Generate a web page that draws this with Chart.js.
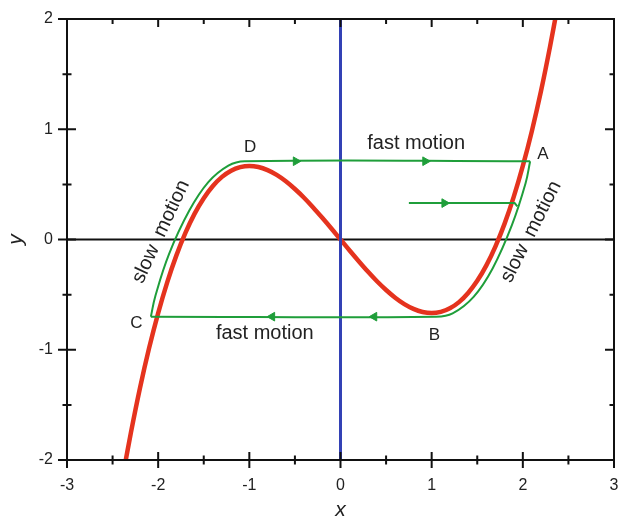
<!DOCTYPE html>
<html>
<head>
<meta charset="utf-8">
<script src="https://cdn.jsdelivr.net/npm/chart.js@4.4.1/dist/chart.umd.min.js"></script>
<style>
  html, body { margin: 0; padding: 0; background: #fff; }
</style>
</head>
<body>
<canvas id="phaseChart" width="620" height="519"></canvas>
<script>
// cubic nullcline (red)
const nullclineX = [-2.36, -2.3, -2.2, -2.1, -2.0, -1.9, -1.8, -1.7, -1.6, -1.5, -1.4, -1.3, -1.2, -1.1,
  -1.0, -0.9, -0.8, -0.7, -0.6, -0.5, -0.4, -0.3, -0.2, -0.1, 0,
  0.1, 0.2, 0.3, 0.4, 0.5, 0.6, 0.7, 0.8, 0.9, 1.0, 1.1, 1.2, 1.3, 1.4, 1.5,
  1.6, 1.7, 1.8, 1.9, 2.0, 2.1, 2.2, 2.3, 2.36];
const nullclineY = [-2.021, -1.756, -1.349, -0.987, -0.667, -0.386, -0.144, 0.062, 0.235, 0.375, 0.485,
  0.568, 0.624, 0.656, 0.667, 0.657, 0.629, 0.586, 0.528, 0.458, 0.379, 0.291, 0.197, 0.100, 0,
  -0.100, -0.197, -0.291, -0.379, -0.458, -0.528, -0.586, -0.629, -0.657, -0.667, -0.656, -0.624,
  -0.568, -0.485, -0.375, -0.235, -0.062, 0.144, 0.386, 0.667, 0.987, 1.349, 1.756, 2.021];

// relaxation cycle (green): C -> left branch -> D -> A
const cycleUpperX = [-2.08, -2.03, -1.88, -1.66, -1.45, -1.23, -1.05, 2.08];
const cycleUpperY = [-0.70, -0.51, -0.13, 0.26, 0.52, 0.67, 0.71, 0.71];
// C -> B -> right branch -> A
const cycleLowerX = [-2.08, 1.05, 1.23, 1.46, 1.67, 1.88, 2.03, 2.08];
const cycleLowerY = [-0.70, -0.70, -0.67, -0.52, -0.26, 0.13, 0.51, 0.71];

// initial approach onto the right branch
const startX = [0.75, 1.91, 1.94];
const startY = [0.33, 0.33, 0.30];

// arrow heads
const arrowRightX = [-0.49, 0.93, 1.14];
const arrowRightY = [0.71, 0.71, 0.33];
const arrowLeftX = [-0.75, 0.37];
const arrowLeftY = [-0.70, -0.70];

// axis ticks
const xTicks = [-3, -2, -1, 0, 1, 2, 3];
const yTicks = [-2, -1, 0, 1, 2];

const labels = [
  { text: 'fast motion', x: 0.83, y: 0.87, rot: 0 },
  { text: 'fast motion', x: -0.83, y: -0.85, rot: 0 },
  { text: 'A', x: 2.22, y: 0.77, rot: 0 },
  { text: 'B', x: 1.03, y: -0.87, rot: 0 },
  { text: 'C', x: -2.24, y: -0.76, rot: 0 },
  { text: 'D', x: -0.99, y: 0.84, rot: 0 },
  { text: 'slow  motion', x: -1.97, y: 0.07, rot: -65 },
  { text: 'slow  motion', x: 2.09, y: 0.07, rot: -63 }
];

const GREEN = '#1f9e3a';
const RED = '#e5331e';
const BLUE = '#3341b5';
const FONT = '"Liberation Sans", Arial, sans-serif';

function toPoints(xs, ys) {
  return xs.map((x, i) => ({ x: x, y: ys[i] }));
}

function lineSet(xs, ys, color, width, extra) {
  return Object.assign({
    data: toPoints(xs, ys),
    showLine: true,
    borderColor: color,
    borderWidth: width,
    pointRadius: 0,
    fill: false
  }, extra || {});
}

function arrowSet(xs, ys, rotation) {
  return {
    data: toPoints(xs, ys),
    showLine: false,
    pointStyle: 'triangle',
    pointRadius: 5,
    rotation: rotation,
    pointBackgroundColor: GREEN,
    pointBorderColor: GREEN,
    pointBorderWidth: 1
  };
}

// frame with tick marks, plus the text annotations
const frameAndText = {
  id: 'frameAndText',
  afterDatasetsDraw(chart) {
    const { ctx, chartArea: a, scales: { x, y } } = chart;
    ctx.save();
    ctx.strokeStyle = '#111';
    ctx.lineWidth = 2;
    ctx.strokeRect(a.left, a.top, a.right - a.left, a.bottom - a.top);

    ctx.beginPath();
    for (let v = -3; v <= 3.001; v += 0.5) {
      const px = x.getPixelForValue(v);
      const major = Number.isInteger(v);
      const out = major ? 8 : 4.5;
      ctx.moveTo(px, a.bottom - out);
      ctx.lineTo(px, a.bottom + out);
      ctx.moveTo(px, a.top);
      ctx.lineTo(px, a.top + (major ? 8 : 5));
    }
    for (let v = -2; v <= 2.001; v += 0.5) {
      const py = y.getPixelForValue(v);
      const major = Number.isInteger(v);
      const out = major ? 9 : 4.5;
      ctx.moveTo(a.left - out, py);
      ctx.lineTo(a.left + out, py);
      ctx.moveTo(a.right, py);
      ctx.lineTo(a.right - (major ? 9 : 4.5), py);
    }
    ctx.stroke();

    ctx.fillStyle = '#222';
    ctx.textAlign = 'center';
    ctx.textBaseline = 'middle';
    labels.forEach(l => {
      const big = l.text.length > 1;
      ctx.font = (big ? 20 : 17) + 'px ' + FONT;
      ctx.save();
      ctx.translate(x.getPixelForValue(l.x), y.getPixelForValue(l.y));
      ctx.rotate(l.rot * Math.PI / 180);
      ctx.fillText(l.text, 0, 0);
      ctx.restore();
    });
    ctx.restore();
  }
};

new Chart(document.getElementById('phaseChart'), {
  type: 'scatter',
  data: {
    datasets: [
      arrowSet(arrowRightX, arrowRightY, 90),
      arrowSet(arrowLeftX, arrowLeftY, -90),
      lineSet(cycleUpperX, cycleUpperY, GREEN, 2, { tension: 0.4 }),
      lineSet(cycleLowerX, cycleLowerY, GREEN, 2, { tension: 0.4 }),
      lineSet(startX, startY, GREEN, 2),
      lineSet([0, 0], [-2, 2], BLUE, 3),
      lineSet(nullclineX, nullclineY, RED, 4.5, { cubicInterpolationMode: 'monotone' }),
      lineSet([-3, 3], [0, 0], '#111', 2)
    ]
  },
  options: {
    responsive: false,
    animation: false,
    events: [],
    layout: { padding: { top: 19, right: 6, left: 0, bottom: 0 } },
    plugins: {
      legend: { display: false },
      tooltip: { enabled: false }
    },
    scales: {
      x: {
        type: 'linear',
        min: -3,
        max: 3,
        afterFit: s => { s.height = 59; s.paddingLeft = 0; s.paddingRight = 0; },
        afterBuildTicks: s => { s.ticks = xTicks.map(v => ({ value: v })); },
        grid: { display: false, drawTicks: false },
        border: { display: false },
        ticks: { color: '#222', padding: 16, font: { family: FONT, size: 16 } },
        title: {
          display: true,
          text: 'x',
          color: '#222',
          padding: 0,
          font: { family: FONT, size: 21, style: 'italic', lineHeight: 0.8 }
        }
      },
      y: {
        type: 'linear',
        min: -2,
        max: 2,
        afterFit: s => { s.width = 67; s.paddingTop = 0; s.paddingBottom = 0; },
        afterBuildTicks: s => { s.ticks = yTicks.map(v => ({ value: v })); },
        grid: { display: false, drawTicks: false },
        border: { display: false },
        ticks: { color: '#222', padding: 14, font: { family: FONT, size: 16 } },
        title: {
          display: true,
          text: 'y',
          color: '#222',
          padding: { top: 6, bottom: 0 },
          font: { family: FONT, size: 21, style: 'italic', lineHeight: 1 }
        }
      }
    }
  },
  plugins: [frameAndText]
});
</script>
</body>
</html>
